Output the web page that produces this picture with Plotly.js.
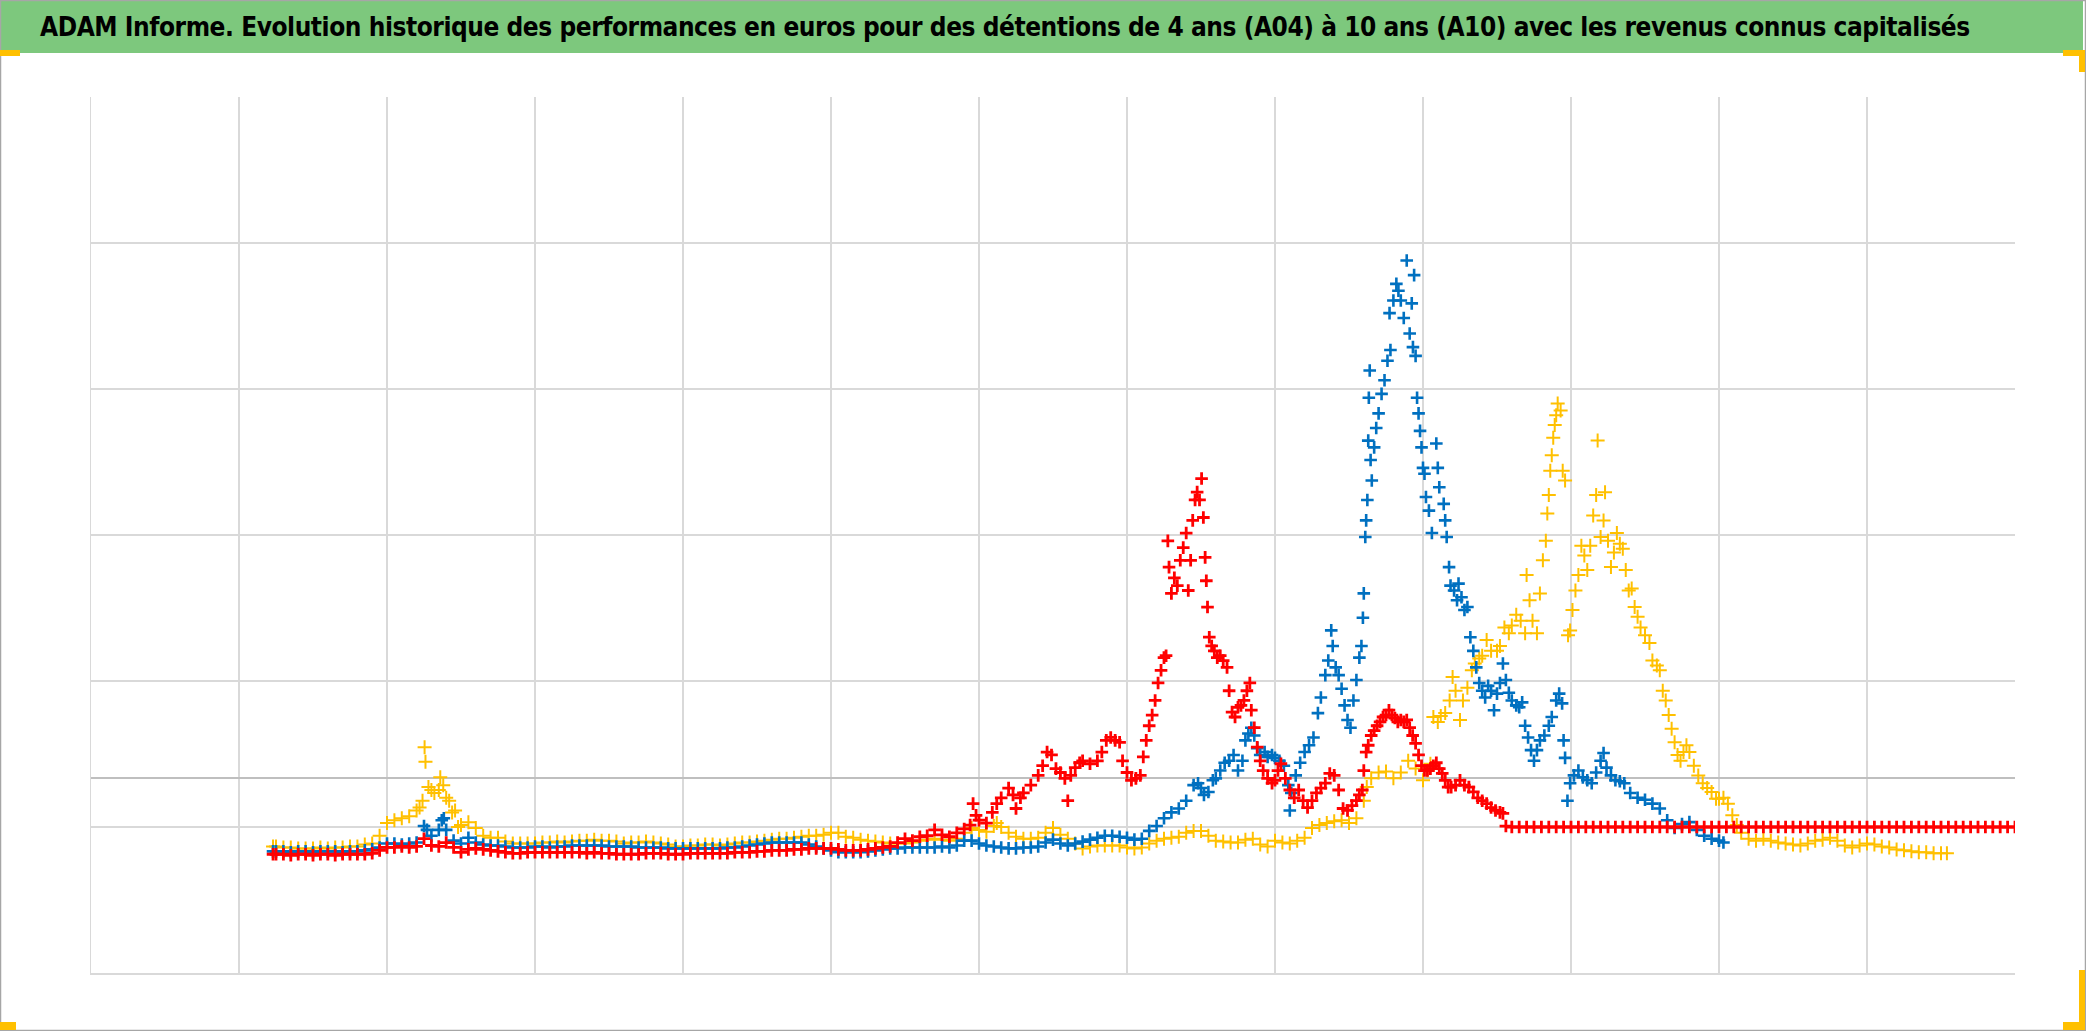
<!DOCTYPE html>
<html>
<head>
<meta charset="utf-8">
<script src="https://cdn.plot.ly/plotly-3.0.1.min.js"></script>
<style>
  html, body { margin: 0; padding: 0; background: #ffffff; }
  #chart { width: 2086px; height: 1031px; }
  #chart .gtitle { letter-spacing: -0.45px; }
</style>
</head>
<body>
<div id="chart"></div>
<script>
// ---- Data (x = date in decimal years, y = performance in %) ----
const yellowYears = [1966.15,1966.25,1966.5,1966.75,1967,1967.25,1967.5,1967.75,1968,1968.25,1968.5,1968.75,1969,1969.25,1969.5,1969.75,
1970,1970.25,1970.5,1970.75,1971,1971.1,1971.2,1971.27,1971.3,1971.4,1971.5,1971.6,1971.75,1971.8,1971.9,
1972,1972.1,1972.2,1972.3,1972.4,1972.5,1972.75,1973,1973.25,1973.5,1973.75,1974,1974.25,1974.5,1974.75,
1975,1975.25,1975.5,1975.75,1976,1976.25,1976.5,1976.75,1977,1977.25,1977.5,1977.75,1978,1978.25,1978.5,1978.75,
1979,1979.25,1979.5,1979.75,1980,1980.25,1980.5,1980.75,1981,1981.25,1981.5,1981.75,1982,1982.25,1982.5,1982.75,
1983,1983.25,1983.5,1983.75,1984,1984.25,1984.5,1984.75,1985,1985.25,1985.5,1985.75,1986,1986.25,1986.5,1986.75,
1987,1987.25,1987.5,1987.75,1988,1988.25,1988.5,1988.75,1989,1989.25,1989.5,1989.75,1990,1990.25,1990.5,1990.6,1990.75,
1991,1991.25,1991.5,1991.75,1992,1992.25,1992.5,1992.75,1993,1993.25,1993.5,1993.75,1994,1994.25,1994.5,1994.75,
1995,1995.25,1995.5,1995.75,1996,1996.25,1996.5,1996.75,1997,1997.25,1997.5,1997.75,1998,1998.25,1998.5,1998.75,
1999,1999.25,1999.5,1999.75,2000,2000.25,2000.5,2000.75,2001,2001.25,2001.5,2001.75,2002,2002.25,2002.5,2002.75,
2003,2003.1,2003.25,2003.5,2003.75,2004,2004.25,2004.5,2004.75,2005,2005.15,2005.25,2005.35,2005.5,2005.6,2005.75,2005.9,
2006,2006.1,2006.25,2006.35,2006.5,2006.65,2006.75,2006.9,2007,2007.15,2007.3,2007.5,2007.6,2007.75,2007.9,
2008,2008.15,2008.3,2008.45,2008.5,2008.6,2008.7,2008.85,2008.95,2009.05,2009.15,2009.2,2009.25,2009.3,2009.35,2009.4,2009.45,2009.5,2009.55,2009.65,2009.72,2009.8,2009.9,2009.97,
2010.05,2010.15,2010.25,2010.35,2010.45,2010.55,2010.65,2010.75,2010.85,2010.9,2011,2011.1,2011.15,2011.25,2011.35,2011.45,2011.55,2011.65,2011.75,2011.85,2011.95,
2012.05,2012.15,2012.25,2012.35,2012.5,2012.65,2012.75,2012.9,2013,2013.1,2013.2,2013.3,2013.4,2013.5,2013.6,2013.7,2013.8,2013.9,
2014,2014.15,2014.3,2014.45,2014.6,2014.75,2014.9,2015,2015.15,2015.3,2015.45,2015.6,2015.75,2016,2016.25,2016.5,2016.75,
2017,2017.25,2017.5,2017.75,2018,2018.25,2018.5,2018.75,2019,2019.25,2019.5,2019.75,2020,2020.25,2020.5,2020.75,
2021,2021.25,2021.5,2021.75,2022,2022.25,2022.5,2022.7];
const yellowValues = [-70,-70,-71,-71,-72,-72,-72,-71,-72,-71,-71,-70,-70,-68,-67,-59,
-46,-43,-41,-39,-33,-30,-23,32,17,-9,-12,-15,-12,1,-7,
-20,-23,-35,-33,-50,-48,-45,-51,-59,-61,-61,-65,-67,-67,-67,
-67,-66,-66,-65,-66,-65,-64,-64,-63,-64,-64,-65,-67,-66,-66,-65,
-66,-67,-68,-70,-70,-69,-69,-68,-68,-69,-68,-67,-66,-66,-65,-64,
-63,-62,-62,-61,-60,-59,-59,-58,-56,-56,-60,-61,-63,-64,-65,-66,
-67,-67,-67,-66,-64,-63,-62,-63,-64,-62,-56,-51,-53,-55,-49,-46,-50,
-56,-60,-62,-62,-61,-56,-51,-58,-62,-67,-72,-70,-69,-69,-69,-69,
-71,-72,-71,-67,-64,-62,-61,-60,-56,-54,-54,-59,-64,-65,-66,-66,
-63,-62,-68,-70,-64,-66,-67,-64,-61,-51,-48,-46,-44,-43,-46,-41,
-23,-9,0,6,7,0,6,18,10,-2,8,15,63,58,64,67,80,
104,90,60,80,93,111,118,123,126,142,131,131,136,155,149,
157,168,162,149,209,183,162,149,190,224,244,272,291,316,332,350,363,373,385,378,316,306,147,152,
173,193,209,239,229,214,239,270,291,347,248,265,294,244,217,232,252,241,236,214,193,
195,176,166,155,147,139,121,116,111,90,80,65,51,37,24,18,27,34,
27,13,3,-5,-10,-14,-21,-21,-20,-26,-38,-48,-56,-62,-64,-62,-64,
-66,-67,-68,-69,-67,-64,-63,-61,-64,-69,-71,-69,-67,-68,-70,-71,
-73,-74,-75,-76,-76,-77,-77,-77];

const blueYears = [1966.15,1966.25,1966.5,1966.75,1967,1967.25,1967.5,1967.75,1968,1968.25,1968.5,1968.75,1969,1969.25,1969.5,1969.75,
1970,1970.25,1970.5,1970.75,1971,1971.25,1971.35,1971.5,1971.75,1971.85,1971.92,
1972,1972.25,1972.5,1972.75,1973,1973.25,1973.5,1973.75,1974,1974.25,1974.5,1974.75,
1975,1975.25,1975.5,1975.75,1976,1976.25,1976.5,1976.75,1977,1977.25,1977.5,1977.75,1978,1978.25,1978.5,1978.75,
1979,1979.25,1979.5,1979.75,1980,1980.25,1980.5,1980.75,1981,1981.25,1981.5,1981.75,1982,1982.25,1982.5,1982.75,
1983,1983.25,1983.5,1983.75,1984,1984.25,1984.5,1984.75,1985,1985.25,1985.5,1985.75,1986,1986.25,1986.5,1986.75,
1987,1987.25,1987.5,1987.75,1988,1988.25,1988.5,1988.75,1989,1989.25,1989.5,1989.75,1990,1990.25,1990.5,1990.75,
1991,1991.25,1991.5,1991.75,1992,1992.25,1992.5,1992.75,1993,1993.25,1993.5,1993.75,1994,1994.25,1994.5,1994.75,
1995,1995.25,1995.5,1995.75,1996,1996.25,1996.5,1996.75,1997,1997.25,1997.4,1997.5,1997.6,1997.75,1997.9,
1998,1998.15,1998.3,1998.45,1998.6,1998.75,1998.9,1999,1999.1,1999.2,1999.3,1999.4,1999.5,1999.65,1999.75,1999.9,
2000,2000.15,2000.3,2000.45,2000.5,2000.55,2000.7,2000.85,2001,2001.15,2001.3,2001.45,2001.55,2001.7,2001.8,2001.9,2001.95,
2002.05,2002.15,2002.25,2002.35,2002.45,2002.55,2002.65,2002.75,2002.85,2002.92,2002.97,
2003,2003.05,2003.08,2003.12,2003.15,2003.17,2003.2,2003.23,2003.27,2003.35,2003.42,2003.5,2003.6,2003.7,2003.8,2003.87,2003.9,
2004,2004.1,2004.17,2004.25,2004.35,2004.45,2004.55,2004.62,2004.66,2004.7,2004.75,2004.8,2004.85,2004.9,2004.95,
2005,2005.05,2005.1,2005.2,2005.3,2005.45,2005.5,2005.55,2005.7,2005.75,2005.8,2005.88,2005.93,
2006.05,2006.15,2006.2,2006.3,2006.4,2006.5,2006.6,2006.7,2006.8,2006.9,
2007,2007.1,2007.2,2007.3,2007.4,2007.5,2007.6,2007.7,2007.8,2007.9,
2008,2008.15,2008.25,2008.35,2008.45,2008.55,2008.65,2008.75,2008.85,2008.95,
2009.1,2009.25,2009.35,2009.5,2009.6,2009.7,2009.75,2009.8,2009.88,2009.97,
2010.1,2010.25,2010.4,2010.55,2010.7,2010.85,2011,2011.1,2011.2,2011.35,2011.5,2011.65,2011.8,
2012,2012.25,2012.5,2012.75,2013,2013.25,2013.5,2013.75,2014,2014.25,2014.5,2014.75,2015,2015.15];
const blueValues = [-75,-75,-75,-76,-75,-75,-76,-75,-75,-75,-76,-75,-75,-74,-73,-71,
-67,-67,-68,-67,-66,-49,-53,-59,-53,-43,-41,
-53,-64,-67,-61,-66,-68,-69,-69,-70,-71,-71,-71,
-70,-70,-71,-70,-70,-69,-69,-69,-69,-69,-70,-70,-70,-70,-71,-71,
-71,-71,-72,-72,-72,-72,-72,-72,-72,-72,-71,-71,-70,-69,-68,-67,
-66,-66,-66,-66,-66,-68,-70,-72,-74,-76,-76,-76,-76,-75,-74,-73,
-72,-72,-71,-71,-71,-71,-71,-70,-71,-69,-64,-64,-67,-69,-70,-71,
-72,-72,-71,-71,-70,-66,-63,-67,-69,-67,-65,-63,-61,-59,-59,-60,
-61,-63,-62,-54,-49,-41,-35,-31,-23,-7,-5,-10,-17,-14,-2,
0,8,16,18,24,8,18,39,46,52,44,31,24,27,22,24,
21,18,13,-7,-33,-15,3,16,27,34,42,67,83,106,121,152,136,
114,106,92,75,60,52,80,101,124,136,165,
190,248,265,286,347,391,419,327,306,340,360,375,395,409,429,478,440,
491,508,501,491,473,532,457,488,443,517,434,391,375,357,340,
319,313,289,275,252,344,319,299,282,265,248,217,198,
193,183,200,186,173,176,145,131,114,98,
90,83,95,90,70,87,98,118,101,88,
80,75,73,78,54,42,29,18,29,39,
44,54,63,80,87,77,39,21,-23,-5,
3,8,1,-2,-5,6,18,26,11,3,-2,-3,-5,
-15,-20,-22,-26,-31,-43,-51,-47,-45,-53,-59,-62,-64,-66];

const redYears = [1966.15,1966.25,1966.5,1966.75,1967,1967.25,1967.5,1967.75,1968,1968.25,1968.5,1968.75,1969,1969.25,1969.5,1969.75,
1970,1970.25,1970.5,1970.75,1971,1971.25,1971.5,1971.75,1972,1972.25,1972.5,1972.75,1973,1973.25,1973.5,1973.75,1974,1974.25,1974.5,1974.75,
1975,1975.25,1975.5,1975.75,1976,1976.25,1976.5,1976.75,1977,1977.25,1977.5,1977.75,1978,1978.25,1978.5,1978.75,
1979,1979.25,1979.5,1979.75,1980,1980.25,1980.5,1980.75,1981,1981.25,1981.5,1981.75,1982,1982.25,1982.5,1982.75,
1983,1983.25,1983.5,1983.75,1984,1984.25,1984.5,1984.75,1985,1985.25,1985.5,1985.75,1986,1986.25,1986.5,1986.75,
1987,1987.25,1987.5,1987.75,1988,1988.25,1988.5,1988.75,1989,1989.25,1989.5,1989.7,1989.8,1989.9,
1990,1990.25,1990.45,1990.6,1990.75,1991,1991.15,1991.25,1991.4,1991.5,1991.75,
1992,1992.15,1992.3,1992.45,1992.6,1992.75,1992.9,1993,1993.1,1993.25,1993.4,1993.5,1993.75,
1994,1994.15,1994.3,1994.45,1994.6,1994.75,1994.85,1995,1995.15,1995.3,1995.45,1995.55,1995.65,1995.75,1995.85,1995.95,
1996.05,1996.15,1996.25,1996.32,1996.38,1996.42,1996.5,1996.6,1996.7,1996.8,1996.9,
1997,1997.07,1997.15,1997.22,1997.3,1997.37,1997.45,1997.52,1997.58,1997.64,1997.68,1997.72,1997.78,1997.86,1997.95,
1998.05,1998.15,1998.25,1998.38,1998.45,1998.55,1998.65,1998.75,1998.85,1998.95,
1999.05,1999.15,1999.2,1999.3,1999.4,1999.5,1999.6,1999.75,1999.9,
2000,2000.1,2000.2,2000.35,2000.5,2000.65,2000.8,2000.95,2001.1,2001.25,2001.4,2001.55,2001.7,2001.85,
2002,2002.15,2002.3,2002.45,2002.6,2002.75,2002.85,2002.95,
2003,2003.08,2003.15,2003.25,2003.35,2003.45,2003.55,2003.65,2003.75,2003.85,2003.95,
2004.05,2004.15,2004.25,2004.35,2004.45,2004.55,2004.65,2004.75,2004.85,2004.95,
2005.05,2005.15,2005.25,2005.35,2005.45,2005.55,2005.65,2005.75,2005.85,2005.95,
2006.1,2006.25,2006.4,2006.55,2006.7,2006.85,2007,2007.15,2007.3,2007.45,2007.6,2007.7,2007.8];
const redValues = [-78,-78,-78,-79,-78,-78,-79,-78,-78,-79,-78,-78,-78,-78,-77,-74,
-71,-71,-70,-71,-70,-62,-69,-70,-66,-71,-76,-73,-72,-73,-74,-75,-76,-77,-77,-76,
-76,-76,-76,-76,-76,-76,-76,-77,-76,-77,-77,-78,-78,-78,-78,-77,
-77,-77,-78,-78,-78,-77,-77,-77,-77,-77,-77,-76,-76,-76,-75,-75,
-74,-74,-74,-73,-73,-72,-72,-72,-72,-73,-74,-74,-74,-73,-72,-71,
-70,-66,-62,-64,-60,-59,-53,-58,-60,-56,-52,-48,-26,-38,
-43,-46,-35,-26,-20,-10,-17,-31,-20,-15,-7,
3,13,27,24,10,6,0,-23,3,11,16,18,15,
18,27,39,42,39,37,18,6,-2,0,3,22,39,54,65,80,
98,111,124,126,244,217,190,206,198,224,237,
252,193,224,265,286,294,286,308,268,227,203,176,145,136,131,
124,126,121,114,90,68,63,73,75,80,
90,98,70,52,32,18,8,0,-5,
-2,8,15,0,-12,-20,-12,-23,-30,-23,-15,-10,-5,5,
3,-12,-31,-33,-28,-23,-17,-12,
8,27,34,44,49,54,58,63,65,70,65,
62,58,60,58,60,52,44,36,24,13,
8,8,10,13,16,10,5,-2,-9,-9,
-7,-2,-7,-9,-14,-20,-23,-26,-30,-33,-35,-36,-49];

// Flat red segment (constant value after the series' last active date)
const redFlatYears = [2008,2008.25,2008.5,2008.75,2009,2009.25,2009.5,2009.75,2010,2010.25,2010.5,2010.75,
2011,2011.25,2011.5,2011.75,2012,2012.25,2012.5,2012.75,2013,2013.25,2013.5,2013.75,2014,2014.25,2014.5,2014.75,
2015,2015.25,2015.5,2015.75,2016,2016.25,2016.5,2016.75,2017,2017.25,2017.5,2017.75,2018,2018.25,2018.5,2018.75,
2019,2019.25,2019.5,2019.75,2020,2020.25,2020.5,2020.75,2021,2021.25,2021.5,2021.75,2022,2022.25,2022.5,2022.75,
2023,2023.25,2023.5,2023.75,2024,2024.25,2024.5,2024.75,2025];
const redFlatValues = [-50,-50,-50,-50,-50,-50,-50,-50,-50,-50,-50,-50,
-50,-50,-50,-50,-50,-50,-50,-50,-50,-50,-50,-50,-50,-50,-50,-50,
-50,-50,-50,-50,-50,-50,-50,-50,-50,-50,-50,-50,-50,-50,-50,-50,
-50,-50,-50,-50,-50,-50,-50,-50,-50,-50,-50,-50,-50,-50,-50,-50,
-50,-50,-50,-50,-50,-50,-50,-50,-50];

const xGridYears = [1960,1965,1970,1975,1980,1985,1990,1995,2000,2005,2010,2015,2020];
const yGridValues = [-200,-50,100,250,400,550,700];

const titleText = "ADAM Informe. Evolution historique des performances en euros pour des détentions de 4 ans (A04) à 10 ans (A10) avec les revenus connus capitalisés";

// ---- Styles ----
const YELLOW = '#FFC000', BLUE = '#0070C0', RED = '#FF0000';
function mk(color, size, w) {
  return { symbol: 'cross-thin', size: size, color: color, line: { color: color, width: w } };
}

const traces = [
  { x: yellowYears, y: yellowValues, type: 'scatter', mode: 'markers', name: 'A04', marker: mk(YELLOW, 10, 2) },
  { x: blueYears, y: blueValues, type: 'scatter', mode: 'markers', name: 'A10', marker: mk(BLUE, 9, 2.6) },
  { x: redYears.concat(redFlatYears), y: redValues.concat(redFlatValues), type: 'scatter', mode: 'markers', name: 'A07', marker: mk(RED, 9, 2.8) }
];

// pixel -> paper helpers for decorations
const L = 91, R = 71, T = 97, B = 58, W = 2086, H = 1031;
const PW = W - L - R, PH = H - T - B;
function px(x) { return (x - L) / PW; }
function py(y) { return (H - B - y) / PH; }
function rect(x0, y0, x1, y1, fill, layer) {
  return { type: 'rect', xref: 'paper', yref: 'paper', x0: px(x0), x1: px(x1), y0: py(y1), y1: py(y0),
           fillcolor: fill, line: { width: 0 }, layer: layer || 'above' };
}

const shapes = [
  rect(0, 1, 2083, 53, '#7DC87D', 'below'),
  { type: 'rect', xref: 'paper', yref: 'paper', x0: px(0.5), x1: px(2085.5), y0: py(1030.5), y1: py(0.5),
    line: { color: '#A6A6A6', width: 1.5 }, fillcolor: 'rgba(0,0,0,0)', layer: 'above' },
  // selection handles
  rect(0, 50, 20, 56, YELLOW),
  rect(2063, 50, 2085, 56, YELLOW),
  rect(2079, 50, 2085, 72, YELLOW),
  rect(0, 1022, 16, 1030, YELLOW),
  rect(2063, 1022, 2085, 1030, YELLOW),
  rect(2079, 970, 2085, 1030, YELLOW)
];

const layout = {
  width: W, height: H,
  margin: { l: L, r: R, t: T, b: B, pad: 0 },
  paper_bgcolor: '#ffffff', plot_bgcolor: '#ffffff',
  showlegend: false,
  title: {
    text: '<b>' + titleText + '</b>',
    font: { family: 'DejaVu Sans Condensed, Liberation Sans Narrow, sans-serif', size: 26, color: '#000000' },
    xref: 'container', yref: 'container', x: 40 / W, xanchor: 'left', y: 1 - 27 / H, yanchor: 'middle'
  },
  xaxis: {
    range: [1960, 2025], tickmode: 'array', tickvals: xGridYears,
    showgrid: true, gridcolor: '#D9D9D9', gridwidth: 1.5,
    showticklabels: false, ticks: '', zeroline: false,
    showline: true, linecolor: '#D9D9D9', linewidth: 1.5
  },
  yaxis: {
    range: [-200, 700], tickmode: 'array', tickvals: yGridValues,
    showgrid: true, gridcolor: '#D9D9D9', gridwidth: 1.5,
    showticklabels: false, ticks: '',
    zeroline: true, zerolinecolor: '#BFBFBF', zerolinewidth: 2,
    showline: true, linecolor: '#D9D9D9', linewidth: 1.5
  },
  shapes: shapes
};

Plotly.newPlot('chart', traces, layout, { displayModeBar: false, staticPlot: true });
</script>
</body>
</html>
